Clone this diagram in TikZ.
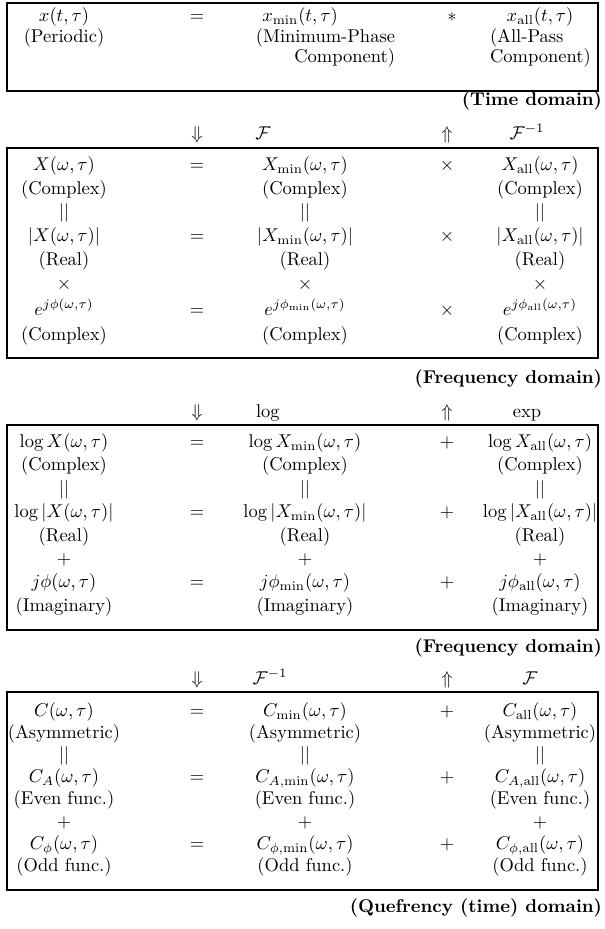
\documentclass[tikz,border=0pt]{standalone}
\usepackage{amsmath,amssymb}
\usetikzlibrary{calc}
\tikzset{
  t/.style={inner sep=0pt, outer sep=0pt, text height=7.5pt, text depth=2.5pt},
  frame/.style={draw, line width=1.5pt},
  dom/.style={t, anchor=east, font=\bfseries},
}
\begin{document}
\begin{tikzpicture}[x=0.5405pt, y=-0.5405pt]
\useasboundingbox (0,0) rectangle (605,929);
% ---------------- Box 1 (time domain)
\draw[frame] (7,3) rectangle (598,91);
\node[t] (a1) at (64,17) {$x(t,\tau)$};
\node[t] (a1e) at (197,17) {$=$};
\node[t] (a2) at (300,17) {$x_{\min}(t,\tau)$};
\node[t] (a1o) at (452,17) {$*$};
\node[t] (a3) at (540,17) {$x_{\mathrm{all}}(t,\tau)$};
\node[t] (a1p) at (64,38) {(Periodic)};
\node[t, anchor=east] (a2p) at (395,38) {(Minimum-Phase};
\node[t, anchor=east] (a2q) at (395,58) {Component)};
\node[t, anchor=west] (a3p) at (490,38) {(All-Pass};
\node[t, anchor=west] (a3q) at (490,58) {Component)};
\node[dom] (d1) at (602,101) {(Time domain)};
% arrows 1
\node[t] (u1) at (197,135) {$\Downarrow$};
\node[t] (f1) at (263,135) {$\mathcal{F}$};
\node[t] (v1) at (447,135) {$\Uparrow$};
\node[t] (g1) at (527,135) {$\mathcal{F}^{-1}$};
% ---------------- Box 2 (frequency domain)
\draw[frame] (7,148) rectangle (598,358);
\node[t] (b11) at (64,166) {$X(\omega,\tau)$};
\node[t] (b1e) at (197,166) {$=$};
\node[t] (b12) at (305,166) {$X_{\min}(\omega,\tau)$};
\node[t] (b1o) at (447,166) {$\times$};
\node[t] (b13) at (540,166) {$X_{\mathrm{all}}(\omega,\tau)$};
\node[t] (b21) at (64,190) {(Complex)};
\node[t] (b22) at (305,190) {(Complex)};
\node[t] (b23) at (540,190) {(Complex)};
\node[t] (b31) at (64,213) {$||$};
\node[t] (b32) at (305,213) {$||$};
\node[t] (b33) at (540,213) {$||$};
\node[t] (b41) at (64,237) {$|X(\omega,\tau)|$};
\node[t] (b4e) at (197,237) {$=$};
\node[t] (b42) at (305,237) {$|X_{\min}(\omega,\tau)|$};
\node[t] (b4o) at (447,237) {$\times$};
\node[t] (b43) at (540,237) {$|X_{\mathrm{all}}(\omega,\tau)|$};
\node[t] (b51) at (64,261) {(Real)};
\node[t] (b52) at (305,261) {(Real)};
\node[t] (b53) at (540,261) {(Real)};
\node[t] (b61) at (64,285) {$\times$};
\node[t] (b62) at (305,285) {$\times$};
\node[t] (b63) at (540,285) {$\times$};
\node[t] (b71) at (64,311) {$e^{j\phi(\omega,\tau)}$};
\node[t] (b7e) at (197,311) {$=$};
\node[t] (b72) at (305,311) {$e^{j\phi_{\min}(\omega,\tau)}$};
\node[t] (b7o) at (447,311) {$\times$};
\node[t] (b73) at (540,311) {$e^{j\phi_{\mathrm{all}}(\omega,\tau)}$};
\node[t] (b81) at (64,336) {(Complex)};
\node[t] (b82) at (305,336) {(Complex)};
\node[t] (b83) at (540,336) {(Complex)};
\node[dom] (d2) at (602,379) {(Frequency domain)};
% arrows 2
\node[t] (u2) at (197,413) {$\Downarrow$};
\node[t] (f2) at (268,413) {$\log$};
\node[t] (v2) at (447,413) {$\Uparrow$};
\node[t] (g2) at (527,413) {$\exp$};
% ---------------- Box 3 (log frequency domain)
\draw[frame] (7,425) rectangle (598,630);
\node[t] (c11) at (64,443) {$\log X(\omega,\tau)$};
\node[t] (c1e) at (197,443) {$=$};
\node[t] (c12) at (305,443) {$\log X_{\min}(\omega,\tau)$};
\node[t] (c1o) at (447,443) {$+$};
\node[t] (c13) at (540,443) {$\log X_{\mathrm{all}}(\omega,\tau)$};
\node[t] (c21) at (64,466) {(Complex)};
\node[t] (c22) at (305,466) {(Complex)};
\node[t] (c23) at (540,466) {(Complex)};
\node[t] (c31) at (64,490) {$||$};
\node[t] (c32) at (305,490) {$||$};
\node[t] (c33) at (540,490) {$||$};
\node[t] (c41) at (64,513) {$\log|X(\omega,\tau)|$};
\node[t] (c4e) at (197,513) {$=$};
\node[t] (c42) at (305,513) {$\log|X_{\min}(\omega,\tau)|$};
\node[t] (c4o) at (447,513) {$+$};
\node[t] (c43) at (540,513) {$\log|X_{\mathrm{all}}(\omega,\tau)|$};
\node[t] (c51) at (64,537) {(Real)};
\node[t] (c52) at (305,537) {(Real)};
\node[t] (c53) at (540,537) {(Real)};
\node[t] (c61) at (64,560) {$+$};
\node[t] (c62) at (305,560) {$+$};
\node[t] (c63) at (540,560) {$+$};
\node[t] (c71) at (64,583) {$j\phi(\omega,\tau)$};
\node[t] (c7e) at (197,583) {$=$};
\node[t] (c72) at (305,583) {$j\phi_{\min}(\omega,\tau)$};
\node[t] (c7o) at (447,583) {$+$};
\node[t] (c73) at (540,583) {$j\phi_{\mathrm{all}}(\omega,\tau)$};
\node[t] (c81) at (64,607) {(Imaginary)};
\node[t] (c82) at (305,607) {(Imaginary)};
\node[t] (c83) at (540,607) {(Imaginary)};
\node[dom] (d3) at (602,648) {(Frequency domain)};
% arrows 3
\node[t] (u3) at (197,680) {$\Downarrow$};
\node[t] (f3) at (270,680) {$\mathcal{F}^{-1}$};
\node[t] (v3) at (447,680) {$\Uparrow$};
\node[t] (g3) at (530,680) {$\mathcal{F}$};
% ---------------- Box 4 (quefrency domain)
\draw[frame] (7,692) rectangle (598,890);
\node[t] (e11) at (64,712) {$C(\omega,\tau)$};
\node[t] (e1e) at (197,712) {$=$};
\node[t] (e12) at (305,712) {$C_{\min}(\omega,\tau)$};
\node[t] (e1o) at (447,712) {$+$};
\node[t] (e13) at (540,712) {$C_{\mathrm{all}}(\omega,\tau)$};
\node[t] (e21) at (64,734) {(Asymmetric)};
\node[t] (e22) at (305,734) {(Asymmetric)};
\node[t] (e23) at (540,734) {(Asymmetric)};
\node[t] (e31) at (64,756) {$||$};
\node[t] (e32) at (305,756) {$||$};
\node[t] (e33) at (540,756) {$||$};
\node[t] (e41) at (64,778) {$C_A(\omega,\tau)$};
\node[t] (e4e) at (197,778) {$=$};
\node[t] (e42) at (305,778) {$C_{A,\min}(\omega,\tau)$};
\node[t] (e4o) at (447,778) {$+$};
\node[t] (e43) at (540,778) {$C_{A,\mathrm{all}}(\omega,\tau)$};
\node[t] (e51) at (64,800) {(Even func.)};
\node[t] (e52) at (305,800) {(Even func.)};
\node[t] (e53) at (540,800) {(Even func.)};
\node[t] (e61) at (64,823) {$+$};
\node[t] (e62) at (305,823) {$+$};
\node[t] (e63) at (540,823) {$+$};
\node[t] (e71) at (64,845) {$C_\phi(\omega,\tau)$};
\node[t] (e7e) at (197,845) {$=$};
\node[t] (e72) at (305,845) {$C_{\phi,\min}(\omega,\tau)$};
\node[t] (e7o) at (447,845) {$+$};
\node[t] (e73) at (540,845) {$C_{\phi,\mathrm{all}}(\omega,\tau)$};
\node[t] (e81) at (64,867) {(Odd func.)};
\node[t] (e82) at (305,867) {(Odd func.)};
\node[t] (e83) at (540,867) {(Odd func.)};
\node[dom] (d4) at (602,908) {(Quefrency (time) domain)};
\end{tikzpicture}
\end{document}
